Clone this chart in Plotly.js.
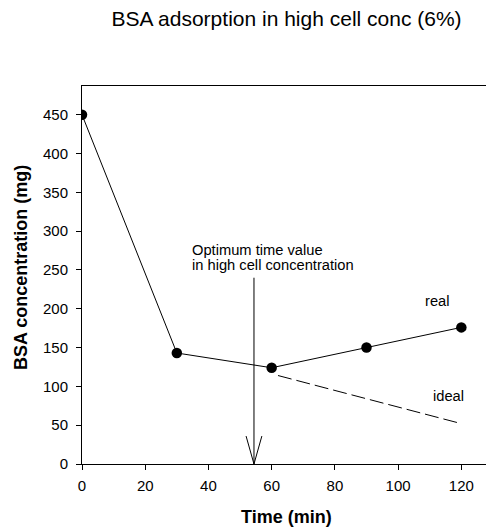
<!DOCTYPE html>
<html>
<head>
<meta charset="utf-8">
<script src="https://cdn.plot.ly/plotly-3.0.1.min.js"></script>
<style>
  html, body { margin: 0; padding: 0; background: #fff; }
  #chart { width: 486px; height: 527px; }
</style>
</head>
<body>
<div id="chart"></div>
<script>
// Measured BSA concentration over time (high cell concentration, 6%)
var timeReal = [0, 30, 60, 90, 120];
var bsaReal = [450, 143, 124, 150, 176];

// Ideal continuation after the minimum
var timeIdeal = [62, 120];
var bsaIdeal = [114, 52];

// Optimum time marker
var optimumTime = 54.4;
var optimumArrowTop = 240;

var xTicks = [0, 20, 40, 60, 80, 100, 120];
var yTicks = [0, 50, 100, 150, 200, 250, 300, 350, 400, 450];

var font = 'Arial, "Liberation Sans", sans-serif';
var black = '#000';

var traces = [
  {
    x: timeReal, y: bsaReal, type: 'scatter', mode: 'lines+markers',
    line: {color: black, width: 1},
    marker: {color: black, size: 10.5},
    showlegend: false, hoverinfo: 'skip'
  },
  {
    x: timeIdeal, y: bsaIdeal, type: 'scatter', mode: 'lines',
    line: {color: black, width: 1, dash: '14px,5px'},
    showlegend: false, hoverinfo: 'skip'
  }
];

var headW = 2.5, headH = 36;
var layout = {
  width: 486, height: 527,
  margin: {l: 82, r: 0, t: 86, b: 63},
  paper_bgcolor: '#fff', plot_bgcolor: '#fff',
  font: {family: font, color: black, size: 15},
  title: {
    text: 'BSA adsorption in high cell conc (6%)',
    font: {family: font, size: 21, color: black},
    x: 0.5895, xanchor: 'center', y: 0.964, yanchor: 'middle'
  },
  xaxis: {
    range: [0, 127.8], showgrid: false, zeroline: false,
    showline: true, linecolor: black, linewidth: 1, mirror: true,
    ticks: 'outside', ticklen: 5, tickcolor: black, tickwidth: 1,
    ticklabelstandoff: 3,
    tickvals: xTicks, ticktext: xTicks.map(String),
    tickfont: {family: font, size: 15, color: black}
  },
  yaxis: {
    range: [0, 487], showgrid: false, zeroline: false,
    showline: true, linecolor: black, linewidth: 1,
    ticks: 'outside', ticklen: 5, tickcolor: black, tickwidth: 1,
    ticklabelstandoff: 5,
    tickvals: yTicks, ticktext: yTicks.map(String),
    tickfont: {family: font, size: 15, color: black}
  },
  shapes: [
    {type: 'line', xref: 'x', yref: 'y', x0: optimumTime, x1: optimumTime,
     y0: optimumArrowTop, y1: 0, line: {color: black, width: 1}},
    {type: 'path', xref: 'x', yref: 'y',
     path: 'M' + (optimumTime - headW) + ',' + headH + ' L' + optimumTime + ',0 L' + (optimumTime + headW) + ',' + headH,
     line: {color: black, width: 1}}
  ],
  annotations: [
    {x: 0.507, y: -0.14, xref: 'paper', yref: 'paper', xanchor: 'center', yanchor: 'middle',
     text: '<b>Time (min)</b>', showarrow: false,
     font: {family: font, size: 18, color: black}},
    {x: -0.151, y: 0.521, xref: 'paper', yref: 'paper', xanchor: 'center', yanchor: 'middle',
     text: '<b>BSA concentration (mg)</b>', textangle: -90, showarrow: false,
     font: {family: font, size: 18, color: black}},
    {x: 34.2, y: 275.8, xref: 'x', yref: 'y', xanchor: 'left', yanchor: 'middle',
     text: 'Optimum time value', showarrow: false,
     font: {family: font, size: 14.7, color: black}},
    {x: 34.2, y: 256.4, xref: 'x', yref: 'y', xanchor: 'left', yanchor: 'middle',
     text: 'in high cell concentration', showarrow: false,
     font: {family: font, size: 14.7, color: black}},
    {x: 112.3, y: 210, xref: 'x', yref: 'y', text: 'real', showarrow: false,
     font: {family: font, size: 14.7, color: black}},
    {x: 116, y: 87.6, xref: 'x', yref: 'y', text: 'ideal', showarrow: false,
     font: {family: font, size: 14.7, color: black}}
  ]
};

Plotly.newPlot('chart', traces, layout, {displayModeBar: false, staticPlot: true});
</script>
</body>
</html>
